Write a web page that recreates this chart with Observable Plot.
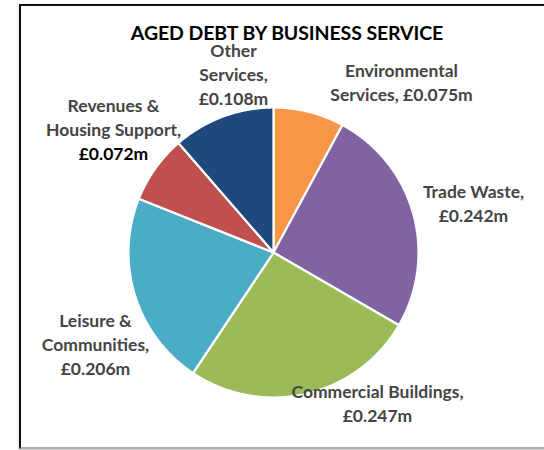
<!DOCTYPE html>
<html>
<head>
<meta charset="utf-8">
<script src="https://cdn.jsdelivr.net/npm/d3@7"></script>
<script src="https://cdn.jsdelivr.net/npm/@observablehq/plot@0.6"></script>
<style>
  html, body { margin: 0; padding: 0; background: #fff; }
  body { width: 544px; height: 450px; position: relative; overflow: hidden; font-family: Lato, "Open Sans", sans-serif; }
  #frame { position: absolute; left: 19px; top: 4px; width: 600px; height: 441px;
           border-left: 2px solid #111; border-top: 2px solid #111; border-bottom: 2px solid #aaa;
           box-shadow: 0 2px 3px #ccc; }
  #title { position: absolute; left: 0; width: 574px; top: 21px; text-align: center;
           font-weight: 700; font-size: 19.5px; color: #000; letter-spacing: -0.1px; }
  #chart { position: absolute; left: 0; top: 0; }
</style>
</head>
<body>
<div id="frame"></div>
<div id="chart"></div>
<div id="title">AGED DEBT BY BUSINESS SERVICE</div>
<script>
// Data
const categories = ["Environmental Services", "Trade Waste", "Commercial Buildings", "Leisure & Communities", "Revenues & Housing Support", "Other Services"];
const values = [0.075, 0.242, 0.247, 0.206, 0.072, 0.108];
const labelTexts = [
  "Environmental\nServices, £0.075m",
  "Trade Waste,\n£0.242m",
  "Commercial Buildings,\n£0.247m",
  "Leisure &\nCommunities,\n£0.206m",
  "Revenues &\nHousing Support,\n£0.072m",
  "Other\nServices,\n£0.108m"
];
const colors = ["#F79646", "#8064A2", "#9BBB59", "#4BACC6", "#C0504D", "#1F497D"];

// Layout (pixels)
const W = 544, H = 450, cx = 273, cy = 252, R = 145;
// label anchor positions in pixel space (layout only)
const labelPx = [[401, 81], [473, 202], [377, 402], [95, 343], [113, 128], [233, 73]];

const pie = d3.pie().sort(null).value(d => d)(values);
const polys = [];
pie.forEach((p, i) => {
  const name = categories[i];
  polys.push({name, x: 0, y: 0});
  const n = Math.max(4, Math.ceil((p.endAngle - p.startAngle) / 0.005));
  for (let k = 0; k <= n; k++) {
    const a = p.startAngle + (p.endAngle - p.startAngle) * k / n;
    polys.push({name, x: Math.sin(a), y: Math.cos(a)});
  }
  polys.push({name, x: 0, y: 0});
});

const toData = ([px, py]) => ({x: (px - cx) / R, y: (cy - py) / R});
const labels = labelTexts.map((t, i) => {
  const d = toData(labelPx[i]);
  return {...d, text: t, name: categories[i]};
});
const revLines = labelTexts[4].split("\n");
const fs = 17.5, lh = 1.35;

const chart = Plot.plot({
  width: W, height: H,
  margin: 0,
  x: {domain: [-cx / R, (W - cx) / R], range: [0, W], axis: null},
  y: {domain: [-(H - cy) / R, cy / R], range: [H, 0], axis: null},
  color: {domain: categories, range: colors},
  style: {background: "transparent", fontFamily: "Lato, 'Open Sans', sans-serif"},
  marks: [
    Plot.line(polys, {x: "x", y: "y", z: "name", fill: "name", stroke: "#fff", strokeWidth: 2.2, curve: "linear", strokeLinejoin: "round"}),
    Plot.text(labels.filter((d, i) => i !== 4), {x: "x", y: "y", text: "text", fill: "#444", fontSize: fs, fontWeight: 700, lineHeight: lh, textAnchor: "middle"}),
    Plot.text([labels[4]], {x: "x", y: "y", text: d => revLines.slice(0, 2).join("\n") + "\n ", fill: "#444", fontSize: fs, fontWeight: 700, lineHeight: lh, textAnchor: "middle"}),
    Plot.text([labels[4]], {x: "x", y: "y", text: d => " \n \n" + revLines[2], fill: "#000", fontSize: fs, fontWeight: 700, lineHeight: lh, textAnchor: "middle"})
  ]
});
document.getElementById("chart").appendChild(chart);
</script>
</body>
</html>
